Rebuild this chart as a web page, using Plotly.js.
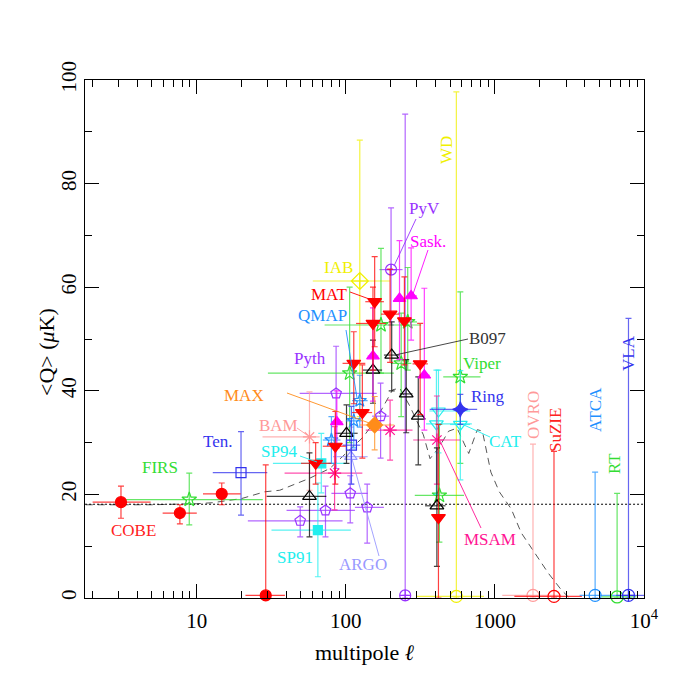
<!DOCTYPE html>
<html>
<head>
<meta charset="utf-8">
<script src="https://cdn.plot.ly/plotly-3.0.1.min.js"></script>
<style>
  html, body { margin: 0; padding: 0; background: #fff; }
  #chart { width: 681px; height: 681px; }
</style>
</head>
<body>
<div id="chart"></div>
<script>
// each row: [l, l low, l high, Q, Q low, Q high]  (Q in microK)
var cobe  = [[3.1, 2.0, 4.9, 18.5, 15.4, 21.6], [7.7, 5.9, 10, 16.4, 14.3, 18.0],
             [14.7, 11, 19.7, 20.1, 18.0, 22.2], [29, 21.2, 39, 0.5, 0, 25.7]];
var greenStars = [[8.9, 3.1, 27.7, 19.0, 14.1, 24.1], [586, 450, 800, 42.7, 26, 59.1],
             [424, 290, 620, 19.8, 10.8, 33.5], [172, 72, 320, 52.7, 43.4, 67.5],
             [106, 30, 210, 43.4, 30, 60], [235, 200, 275, 45.3, 35, 55], [260, 225, 300, 53.3, 44, 63.8]];
var tenSquares = [[19.8, 12.8, 29.7, 24.2, 16.0, 32.1], [109, 95, 125, 29.5, 22, 37]];
var qmap  = [[80, 70, 92, 30.5, 26, 35], [113, 100, 128, 34.2, 29, 39.6], [124, 110, 140, 38.1, 33, 43]];
var maxPt = [[156, 124, 211, 33.4, 28.6, 38.9]];
var bam   = [[57, 27.6, 66.7, 31.1, 20.8, 39.8]];
var sp    = [[68.4, 32.4, 101, 26, 20.3, 31.8], [64.9, 31.7, 108, 13.1, 4.1, 22.2]];
var cat   = [[418, 363, 683, 36.1, 28, 44], [405, 345, 700, 33.6, 20, 44], [586, 500, 680, 33.5, 22.8, 43.9]];
var msam  = [[408, 283, 586, 30.5, 22, 39], [198, 136, 280, 32.4, 26.6, 38.2], [84, 38.8, 129, 24.1, 17, 33.1]];
var ring  = [[586, 365, 760, 36.4, 33.5, 39.3]];
var argo  = [[108, 82, 140, 27.3, 22, 33]];
var iab   = [[124, 60, 197, 61.2, 35, 88.4]];
var wd    = [[551, 300, 845, 0.3, 0, 97.7]];
var pyth  = [[86, 49, 161, 39.5, 25, 48.6], [171, 150, 195, 35.1, 27, 41.5], [107, 80, 140, 20.2, 14.5, 23.6],
             [139, 115, 180, 17.5, 10.6, 22], [73, 40, 115, 16.9, 11.8, 21.6], [49.4, 22, 95, 14.9, 11.8, 17.6]];
var pyv   = [[201, 168, 240, 63.4, 52.7, 75.3], [250, 240, 262, 0.5, 0, 93.4]];
var sask  = [[274, 255, 300, 58.3, 49.8, 67.6], [229, 212, 245, 57.8, 46, 69], [152, 140, 165, 46.7, 38, 56],
             [87, 80, 95, 34, 29, 40], [336, 310, 365, 43, 32.4, 59.8]];
var mat   = [[156, 135, 180, 57.2, 48.5, 65.9], [198, 172, 228, 54.8, 45.5, 63.5], [152, 117, 186, 53.0, 44, 60],
             [113, 95, 135, 45.3, 37.5, 51.4], [129, 110, 150, 35.8, 27, 45], [85, 70, 100, 29.3, 22, 36],
             [62.7, 50, 80, 26, 22, 30], [315, 280, 355, 45.2, 35.4, 53], [418, 400, 440, 15.5, 0, 33.5],
             [247, 225, 270, 53.5, 45, 62]];
var blackTri = [[57, 29.4, 74, 19.6, 11.8, 28], [101, 85, 120, 31.8, 26, 37.3], [152, 130, 175, 44, 37.6, 49.8],
             [203, 180, 230, 46.9, 40, 53.3], [254, 230, 280, 39.4, 31.9, 46], [306, 280, 335, 35.1, 25.7, 42.7],
             [408, 340, 466, 17.8, 6.1, 29]];
var ovro  = [[1800, 1120, 2780, 0.5, 0, 29.7]];
var suzie = [[2490, 1350, 3830, 0.3, 0, 28.3]];
var atca  = [[4700, 3700, 7100, 0.5, 0, 24.3]];
var rt    = [[6600, 5200, 8900, 0.2, 0, 20.2]];
var vla   = [[7870, 6500, 10000, 0.5, 0, 54]];

// model curve (dashed) and flat Q level (dotted)
var modelL = [1.8, 5, 10, 12.8, 20, 28.5, 36, 57, 78, 98, 130, 159, 206, 230, 268, 331, 367, 420, 489, 557,
              634, 667, 762, 824, 939, 1070, 1286, 1500, 1850, 2280, 2800, 3110];
var modelQ = [18.0, 18.0, 18.2, 18.4, 19.2, 20.5, 20.8, 23.1, 25.0, 27.6, 31, 34.4, 40.2, 40.5, 37.1, 31.5, 26.9,
              29, 32.2, 32.8, 29.2, 27.9, 32.5, 32.2, 24.3, 20.5, 17.2, 12.6, 8.7, 4.8, 1.5, 0.2];
var flatL = [1.78, 10000];
var flatQ = [18.1, 18.1];

var serif = 'Liberation Serif';

function fade(hex, a) {
    var n = parseInt(hex.slice(1), 16);
    return 'rgba(' + (n >> 16) + ',' + ((n >> 8) & 255) + ',' + (n & 255) + ',' + a + ')';
}

function pts(rows, color, symbol, size) {
    var bar = fade(color, 0.75);
    return {
        type: 'scatter', mode: 'markers', cliponaxis: false, showlegend: false,
        x: rows.map(function (r) { return r[0]; }),
        y: rows.map(function (r) { return r[3]; }),
        marker: {symbol: symbol, size: size, color: color, line: {color: color, width: 1.2}},
        error_x: {type: 'data', symmetric: false, color: bar, thickness: 1.2, width: 0,
                  array: rows.map(function (r) { return r[2] - r[0]; }),
                  arrayminus: rows.map(function (r) { return r[0] - r[1]; })},
        error_y: {type: 'data', symmetric: false, color: bar, thickness: 1.2, width: 3,
                  array: rows.map(function (r) { return r[5] - r[3]; }),
                  arrayminus: rows.map(function (r) { return r[3] - r[4]; })}
    };
}

var data = [
    {type: 'scatter', mode: 'lines', x: modelL, y: modelQ, showlegend: false,
     line: {color: '#444', width: 0.9, dash: '7px,5px'}},
    {type: 'scatter', mode: 'lines', x: flatL, y: flatQ, showlegend: false,
     line: {color: '#000', width: 1, dash: '2px,2px'}},
    pts(wd, '#f0f000', 'circle-open', 12),
    pts(iab, '#f0f000', 'diamond-cross-open', 13),
    pts(pyth, '#9933ff', 'pentagon-open', 11),
    pts(pyv, '#9933ff', 'circle-cross-open', 11),
    pts(argo, '#9999ff', 'triangle-up-open', 11),
    pts(greenStars, '#33dd33', 'star-open', 11),
    pts(sp, '#22eeee', 'square', 9),
    pts(cat, '#22eeee', 'triangle-down-open', 12),
    pts(bam, '#ff9999', 'asterisk-open', 11),
    pts(msam, '#ff1493', 'asterisk-open', 11),
    pts(blackTri, '#000000', 'triangle-up-open', 12),
    pts(qmap, '#1e90ff', 'star-open', 10),
    pts(tenSquares, '#3333ee', 'square-open', 10),
    pts(sask, '#ff00ff', 'triangle-up', 11),
    pts(mat, '#ff0000', 'triangle-down', 12),
    pts(maxPt, '#ff8c1a', 'diamond', 12),
    pts(ring, '#3333ee', 'star-diamond', 11),
    pts(cobe, '#ff0000', 'circle', 11),
    pts(ovro, '#ff9999', 'circle-open', 12),
    pts(suzie, '#ff0000', 'circle-open', 12),
    pts(atca, '#1e90ff', 'circle-open', 12),
    pts(rt, '#33dd33', 'circle-open', 12),
    pts(vla, '#3333ee', 'circle-cross-open', 12)
];

// plot frame in page pixels, used to place labels
var L = 85, R = 644, T = 80, B = 598;
function px(x) { return (x - L) / (R - L); }
function py(y) { return (B - y) / (B - T); }

function label(text, x, y, color, angle, size) {
    return {text: text, xref: 'paper', yref: 'paper', x: px(x), y: py(y), showarrow: false,
            xanchor: 'center', yanchor: 'middle', textangle: angle || 0,
            font: {family: serif, size: size || 17, color: color}};
}
function pointer(x0, y0, x1, y1, color) {
    return {type: 'line', xref: 'paper', yref: 'paper', x0: px(x0), y0: py(y0), x1: px(x1), y1: py(y1),
            line: {color: color, width: 0.9}};
}

var annotations = [
    label('COBE', 133, 530, '#ff2222'),
    label('FIRS', 160, 467, '#33dd33'),
    label('Ten.', 218, 442, '#3333ee'),
    label('SP94', 279, 451, '#22eeee'),
    label('BAM', 278, 425, '#ff9999'),
    label('MAX', 244, 395, '#ff8c1a'),
    label('Pyth', 310, 358, '#9933ff'),
    label('QMAP', 322, 315, '#1e90ff'),
    label('MAT', 329, 294, '#ff0000'),
    label('IAB', 338, 267, '#f0f000'),
    label('PyV', 424, 209, '#9933ff'),
    label('Sask.', 428, 241, '#ff00ff'),
    label('B097', 487, 338, '#333333'),
    label('Viper', 482, 363, '#33dd33'),
    label('Ring', 488, 396, '#3333ee'),
    label('CAT', 505, 441, '#22eeee'),
    label('MSAM', 490, 539, '#ff1493'),
    label('SP91', 295, 557, '#22eeee'),
    label('ARGO', 363, 564, '#9999ff'),
    label('OVRO', 534, 415, '#ff9999', -90),
    label('SuZIE', 555, 430, '#ff2222', -90),
    label('ATCA', 595, 410, '#1e90ff', -90),
    label('RT', 614, 464, '#33dd33', -90),
    label('VLA', 628, 353, '#3333ee', -90),
    label('WD', 447, 150, '#f0f000', -90),
    // y axis title, placed by hand so it sits where the reference has it
    label('&lt;Q&gt; (<i>μ</i>K)', 46, 352, '#000', -90, 22)
];

var shapes = [
    pointer(287, 393, 372, 424, '#ff8c1a'),
    pointer(297, 428, 307, 435, '#ff9999'),
    pointer(300, 456, 317, 462, '#22eeee'),
    pointer(346, 330, 357, 398, '#1e90ff'),
    pointer(350, 292, 372, 300, '#ff0000'),
    pointer(416, 219, 394, 266, '#9933ff'),
    pointer(428, 250, 413, 294, '#ff00ff'),
    pointer(468, 339, 395, 355, '#333333'),
    pointer(490, 437, 464, 425, '#22eeee'),
    pointer(481, 528, 440, 441, '#ff1493'),
    pointer(379, 556, 352, 459, '#9999ff')
];

var minorL = [2, 3, 4, 5, 6, 7, 8, 9, 20, 30, 40, 50, 60, 70, 80, 90,
              200, 300, 400, 500, 600, 700, 800, 900, 2000, 3000, 4000, 5000, 6000, 7000, 8000, 9000];

var layout = {
    width: 681, height: 681,
    margin: {l: L, r: 681 - R, t: T, b: 681 - B},
    paper_bgcolor: '#fff', plot_bgcolor: '#fff',
    font: {family: serif, size: 20, color: '#000'},
    xaxis: {
        type: 'log', range: [0.25, 4],
        tickvals: [10, 100, 1000, 10000], ticktext: ['10', '100', '1000', '10<sup>4</sup>'],
        ticks: 'inside', ticklen: 14, tickwidth: 1, tickcolor: '#000', ticklabelstandoff: 4,
        minor: {tickvals: minorL, ticks: 'inside', ticklen: 7, tickwidth: 1, tickcolor: '#000'},
        showline: true, linecolor: '#000', linewidth: 1, mirror: 'ticks',
        showgrid: false, zeroline: false,
        tickfont: {family: serif, size: 21},
        title: {text: 'multipole <i>ℓ</i>', font: {family: serif, size: 22}, standoff: 12}
    },
    yaxis: {
        range: [0, 100], dtick: 20, tickangle: -90,
        ticks: 'inside', ticklen: 14, tickwidth: 1, tickcolor: '#000',
        minor: {dtick: 10, ticks: 'inside', ticklen: 7, tickwidth: 1, tickcolor: '#000'},
        showline: true, linecolor: '#000', linewidth: 1, mirror: 'ticks',
        showgrid: false, zeroline: false,
        tickfont: {family: serif, size: 21}
    },
    annotations: annotations,
    shapes: shapes
};

Plotly.newPlot('chart', data, layout, {displayModeBar: false, staticPlot: true});
</script>
</body>
</html>
